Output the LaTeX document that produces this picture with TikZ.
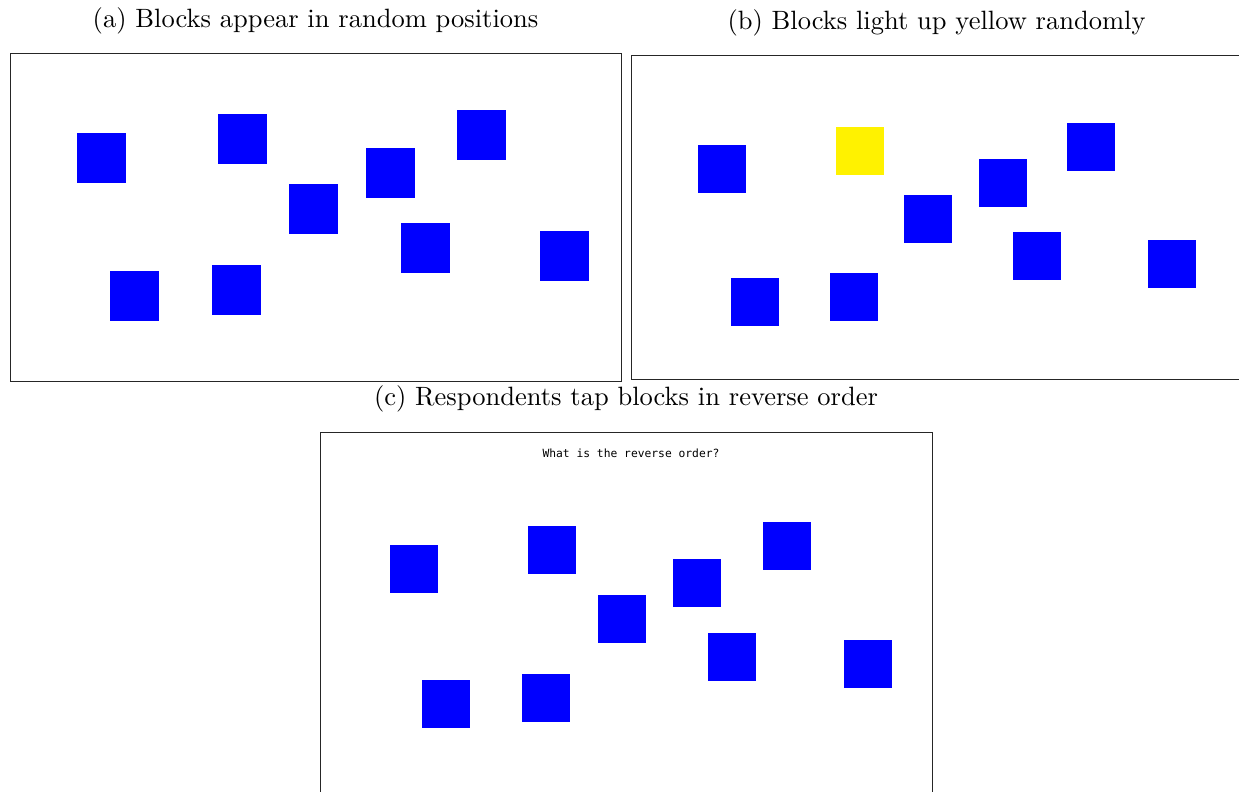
\documentclass[tikz,border=0pt]{standalone}
\usepackage{fontspec}
\newfontfamily\monofont{DejaVu Sans Mono}
\newfontfamily\capfont{lmroman10-regular.otf}
\tikzset{
  panel/.style={draw=black!85, line width=1pt},
  blka/.style={fill=blue, inner sep=0pt, minimum width=49pt, minimum height=50pt, anchor=north west},
  blkb/.style={fill=blue, inner sep=0pt, minimum size=48pt, anchor=north west},
  lit/.style={fill=yellow, inner sep=0pt, minimum size=48pt, anchor=north west},
  captext/.style={font=\capfont\fontsize{26.5}{30}\selectfont, inner sep=0pt, anchor=base},
  prompt/.style={font=\monofont\fontsize{11.3}{13}\selectfont, inner sep=0pt}
}
\begin{document}
\begin{tikzpicture}[x=1pt,y=-1pt]
\useasboundingbox (0,0) rectangle (1239,792);
% captions
\node[captext] (capa) at (315.5,28) {(a) Blocks appear in random positions};
\node[captext] (capb) at (936.5,30) {(b) Blocks light up yellow randomly};
\node[captext] (capc) at (626,405) {(c) Respondents tap blocks in reverse order};
% panel frames
\draw[panel] (10,54) rectangle (621,381);
\draw[panel] (1239,56) -- (631,56) -- (631,379) -- (1239,379);
\draw[panel] (320,792) -- (320,432) -- (932,432) -- (932,792);
% panel (a)
\node[blka] (a1) at (77,133) {};
\node[blka] (a2) at (218,114) {};
\node[blka] (a3) at (289,184) {};
\node[blka] (a4) at (366,148) {};
\node[blka] (a5) at (457,110) {};
\node[blka] (a6) at (401,223) {};
\node[blka] (a7) at (540,231) {};
\node[blka] (a8) at (110,271) {};
\node[blka] (a9) at (212,265) {};
% panel (b)
\node[blkb] (b1) at (698,145) {};
\node[lit]  (b2) at (836,127) {};
\node[blkb] (b3) at (904,195) {};
\node[blkb] (b4) at (979,159) {};
\node[blkb] (b5) at (1067,123) {};
\node[blkb] (b6) at (1013,232) {};
\node[blkb] (b7) at (1148,240) {};
\node[blkb] (b8) at (731,278) {};
\node[blkb] (b9) at (830,273) {};
% panel (c)
\node[prompt] (q) at (631,453) {What is the reverse order?};
\node[blkb] (c1) at (390,545) {};
\node[blkb] (c2) at (528,526) {};
\node[blkb] (c3) at (598,595) {};
\node[blkb] (c4) at (673,559) {};
\node[blkb] (c5) at (763,522) {};
\node[blkb] (c6) at (708,633) {};
\node[blkb] (c7) at (844,640) {};
\node[blkb] (c8) at (422,680) {};
\node[blkb] (c9) at (522,674) {};
\end{tikzpicture}
\end{document}
